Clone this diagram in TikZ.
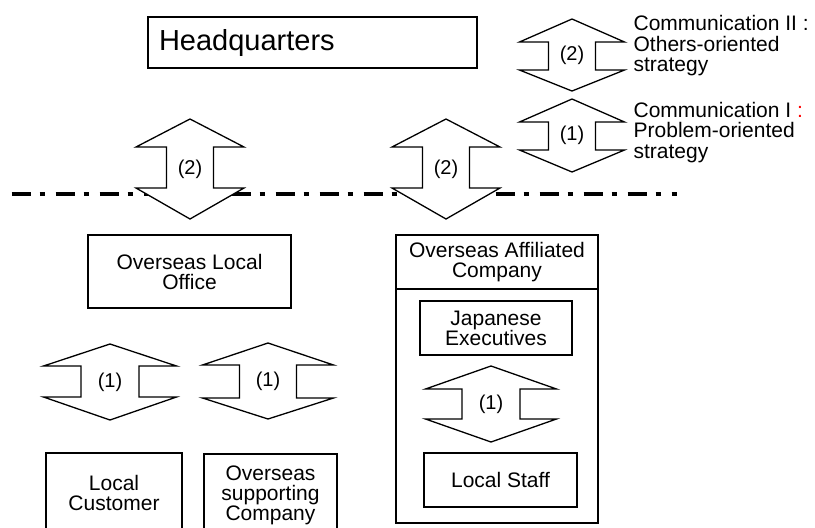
\documentclass[tikz,border=0pt]{standalone}
\usepackage{fontspec}
\setmainfont{Liberation Sans}
\usepackage{tikz}
\usetikzlibrary{positioning, calc}

\tikzset{
  box/.style={draw, rectangle, inner sep=0pt, align=center, font=\fontsize{21}{20}\selectfont},
  lbl/.style={inner sep=0pt, align=left, font=\fontsize{21}{20.5}\selectfont},
  num/.style={inner sep=0pt, font=\fontsize{20}{20}\selectfont},
  sepline/.style={line width=4.5pt, dash pattern=on 19pt off 9pt on 5pt off 11pt},
  fatarrow/.style={draw, fill=white, line join=miter},
}

\begin{document}
\begin{tikzpicture}[x=1pt, y=-1pt, line width=1.3pt]
  \useasboundingbox (0,0) rectangle (815,528);
  \clip (0,0) rectangle (815,528);

  % border line home / overseas
  \coordinate (sepL) at (11.7,194);
  \coordinate (sepR) at (677,194);
  \draw[sepline] (sepL) -- (sepR);

  % double block arrows
  \foreach \cx/\yt/\ya/\yb/\ye/\hw/\sw/\lab [count=\i] in {
      190/119/147/188/219/54/23.5/2,
      446/119/147/188/219/54/23.5/2,
      572/19/42/70/91/52.5/23.5/2,
      572/99/122/150/172/52.5/23.5/1,
      110/344/366/397/420/66.5/29/1,
      268/343/365/398/419/65.5/28.5/1,
      491/366/389/419/442/65.5/29/1}
  {
    \draw[fatarrow] (\cx,\yt) -- ({\cx+\hw},\ya) -- ({\cx+\sw},\ya) -- ({\cx+\sw},\yb)
      -- ({\cx+\hw},\yb) -- (\cx,\ye) -- ({\cx-\hw},\yb) -- ({\cx-\sw},\yb)
      -- ({\cx-\sw},\ya) -- ({\cx-\hw},\ya) -- cycle;
    \node[num] (c\i) at (\cx,{(\yt+\ye)/2}) {(\lab)};
  }

  % legend
  \node[lbl, anchor=west] (comm2) at (633,46) {Communication II :\\Others-oriented\\strategy};
  \node[lbl, anchor=west] (comm1) at (633,132.5) {Communication I {\color{red}:}\\Problem-oriented\\strategy};

  % headquarters
  \node[box, minimum width=329, minimum height=51, text width=307, align=left,
        inner xsep=11, font=\fontsize{29}{29}\selectfont] (hq) at (312.5,42.5) {Headquarters};

  % overseas side
  \node[box, minimum width=203, minimum height=73] (office) at (189.5,271.5) {Overseas Local\\Office};
  \node[box, minimum width=136, minimum height=80] (cust) at (114,493) {Local\\Customer};
  \node[box, minimum width=133, minimum height=82] (supp) at (270.5,495) {Overseas\\supporting\\Company};

  % affiliated company
  \node[box, minimum width=202, minimum height=288] (aff) at (497,379) {};
  \node[box, draw=none] (afftitle) at (497,262) {Overseas Affiliated\\Company};
  \draw (aff.west |- 0,289) -- (aff.east |- 0,289);
  \node[box, minimum width=152, minimum height=54] (jap) at (496,328) {Japanese\\Executives};
  \node[box, minimum width=153, minimum height=54] (staff) at (500.5,480) {Local Staff};
\end{tikzpicture}
\end{document}
